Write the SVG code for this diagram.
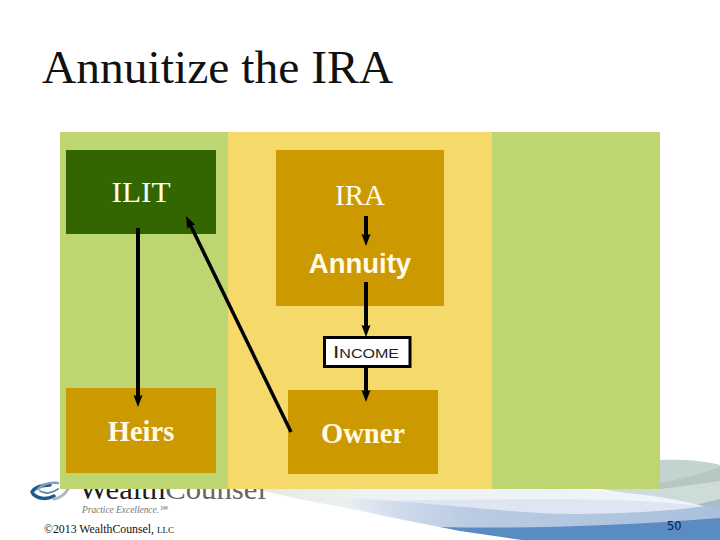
<svg xmlns="http://www.w3.org/2000/svg" width="720" height="540" viewBox="0 0 720 540">
<style>
.serif{font-family:"Liberation Serif",serif;fill:#fffdf0;font-size:29px;text-anchor:middle}
.bold{font-family:"Liberation Serif",serif;font-weight:bold;fill:#fffbe8;font-size:28.500px;text-anchor:middle}
.c{stroke:#000;stroke-width:4;fill:none;marker-end:url(#a)}
.s{fill:none;stroke-linecap:round}
</style>
<defs>
<marker id="a" markerUnits="userSpaceOnUse" markerWidth="13" markerHeight="10" refX="4" refY="5" orient="auto"><path d="M0 .5L12 5L0 9.500L1.500 5Z" fill="#000"/></marker>
<linearGradient id="pale" x1="0" x2="1" y1="0" y2="0"><stop offset="0" stop-color="#e6ebdc"/><stop offset=".25" stop-color="#eef2f4"/><stop offset="1" stop-color="#f1f4fa"/></linearGradient>
<linearGradient id="mid" x1="0" x2="1" y1="0" y2="0"><stop offset="0" stop-color="#b9cbe2" stop-opacity="0"/><stop offset=".35" stop-color="#b9cbe2"/><stop offset="1" stop-color="#a9c0dc"/></linearGradient>
<linearGradient id="soft" x1="0" x2="1" y1="0" y2="0"><stop offset="0" stop-color="#dfe6f2" stop-opacity="0"/><stop offset=".2" stop-color="#dfe6f2"/><stop offset="1" stop-color="#dfe6f2"/></linearGradient>
</defs>
<rect width="720" height="540" fill="#fff"/>
<g id="swoosh">
<path d="M640 489V470L660 460C685 459 705 461 720 465V530H640Z" fill="#c3d3cf"/>
<path d="M660 483C685 478 705 473 720 467V481C700 484 680 488 660 491Z" fill="#b4c7c3"/>
<path d="M600 489L660 489C685 486 705 483 720 481V500L700 506Z" fill="#cddbd9"/>
<path d="M695 505L720 499V512H700Z" fill="#a9bdc2"/>
<path d="M255 489H560C620 490 670 497 702 506L720 512V540H522L303 500Z" fill="url(#pale)"/>
<path d="M340 500C460 502 600 494 702 506L720 512V540H440Z" fill="url(#soft)"/>
<path d="M340 497C470 506 520 514 570 514C630 514 680 510 706 506L720 507V540H480L340 525Z" fill="url(#mid)"/>
<path d="M440 527C520 529 620 526 720 518V540H440Z" fill="#5a8cc2"/>
<path d="M240 494L262 494L303 500L460 531L522 540H240Z" fill="#fff"/>
</g>
<g id="logo">
<path class="s" d="M32 492C35 487 42 485 50 485" stroke="#1d5a8c" stroke-width="3.500"/>
<path class="s" d="M33 494C39 500 48 499 54 496" stroke="#1d5a8c" stroke-width="3.500"/>
<path class="s" d="M38 489C43 484 50 482 58 483" stroke="#7f9fc4" stroke-width="2.500"/>
<path class="s" d="M40 491C45 494 52 493 58 489" stroke="#5d8bb3" stroke-width="2"/>
<path class="s" d="M54 499C60 498 65 494 68 489" stroke="#aeb8bb" stroke-width="3"/>
<text x="79" y="499" font-family="Liberation Serif,serif" font-size="29" fill="#1c1c1c" textLength="187" lengthAdjust="spacingAndGlyphs">Wealth<tspan fill="#666">Counsel</tspan></text>
<text x="82" y="513" font-family="Liberation Serif,serif" font-style="italic" font-size="9.500" fill="#777" textLength="85">Practice Excellence.℠</text>
</g>
<text id="copy" x="44" y="533" font-family="Liberation Serif,serif" font-size="11.800" fill="#111">©2013 WealthCounsel, <tspan font-size="9">LLC</tspan></text>
<text id="page" x="667" y="530" font-family="DejaVu Sans,sans-serif" font-size="13" fill="#0a1a44" textLength="14.500" lengthAdjust="spacingAndGlyphs">50</text>
<text id="title" x="42" y="83" font-family="Liberation Serif,serif" font-size="47" fill="#111" textLength="351" lengthAdjust="spacingAndGlyphs">Annuitize the IRA</text>
<g id="bands">
<rect x="60" y="132" width="168" height="357" fill="#bed672"/>
<rect x="228" y="132" width="264" height="357" fill="#f5da6b"/>
<rect x="492" y="132" width="168" height="357" fill="#bed672"/>
</g>
<g id="ilit"><rect x="66" y="150" width="150" height="84" fill="#336600"/><text class="serif" x="141" y="202" textLength="59" lengthAdjust="spacingAndGlyphs">ILIT</text></g>
<g id="ira"><rect x="276" y="150" width="168" height="156" fill="#cc9900"/><text class="serif" x="360" y="205" textLength="50" lengthAdjust="spacingAndGlyphs">IRA</text></g>
<text id="annuity" x="360" y="273" font-family="Liberation Sans,sans-serif" font-weight="bold" font-size="27.500" fill="#fffbe8" text-anchor="middle">Annuity</text>
<g id="heirs"><rect x="66" y="388" width="150" height="85" fill="#cc9900"/><text class="bold" x="141" y="441">Heirs</text></g>
<g id="owner"><rect x="288" y="390" width="150" height="84" fill="#cc9900"/><text class="bold" x="363" y="443">Owner</text></g>
<g id="connectors">
<path class="c" d="M366 216V238"/>
<path class="c" d="M366 282V329"/>
<path class="c" d="M366 367V394"/>
<path class="c" d="M138 228V399"/>
<path class="c" style="stroke-width:3.500" d="M291 432L189.500 223.200"/>
</g>
<g id="income"><rect x="324.500" y="337.500" width="85.500" height="29" fill="#fff" stroke="#000" stroke-width="3"/><text x="333" y="358" font-family="Liberation Sans,sans-serif" font-size="17" fill="#222" font-variant="small-caps" textLength="66" lengthAdjust="spacingAndGlyphs">Income</text></g>
</svg>
